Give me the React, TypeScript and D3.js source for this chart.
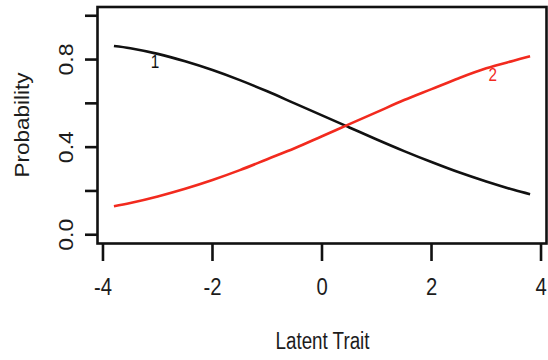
import React from 'react';
import * as d3 from 'd3';

const latentTrait = [-3.8, -3.5, -3, -2.5, -2, -1.5, -1, -0.5, 0, 0.5, 1, 1.5, 2, 2.5, 3, 3.5, 3.8];
const category1 = [0.862, 0.852, 0.826, 0.792, 0.752, 0.706, 0.655, 0.6, 0.545, 0.49, 0.435, 0.382, 0.332, 0.285, 0.243, 0.205, 0.185];
const category2 = [0.13, 0.145, 0.175, 0.21, 0.25, 0.295, 0.345, 0.395, 0.45, 0.505, 0.56, 0.615, 0.665, 0.715, 0.76, 0.795, 0.815];
const seriesNames = ['1', '2'];
const seriesColors = ['#111111', '#f22a1e'];
const labelX = [-3.05, 3.12];
const labelY = [0.76, 0.7];
const xTicks = [-4, -2, 0, 2, 4];
const xTickLabels = ['-4', '-2', '0', '2', '4'];
const yTicks = [0, 0.2, 0.4, 0.6, 0.8, 1.0];
const yTickLabels = ['0.0', '', '0.4', '', '0.8', ''];
const xTitle = 'Latent Trait';
const yTitle = 'Probability';

export default function App() {
  const x = d3.scaleLinear().domain([-4.1, 4.1]).range([97.5, 546.5]);
  const y = d3.scaleLinear().domain([-0.04, 1.04]).range([243.5, 7]);
  const line = d3
    .line<number>()
    .x((_, i) => x(latentTrait[i]))
    .y((d) => y(d))
    .curve(d3.curveCatmullRom);
  const series = [category1, category2];
  const font = 'Liberation Sans, Arial, sans-serif';
  const textColor = '#1c1c1c';
  return (
    <svg
      width={548}
      height={360}
      style={{ position: 'absolute', left: 0, top: 0, background: '#fff' }}
    >
      <rect x={0} y={0} width={548} height={360} fill="#fff" />
      {series.map((s, k) => (
        <path key={k} d={line(s) || ''} fill="none" stroke={seriesColors[k]} strokeWidth={2.6} />
      ))}
      {seriesNames.map((n, k) => (
        <text
          key={n}
          transform={`translate(${x(labelX[k])},${y(labelY[k])}) scale(0.85,1)`}
          textAnchor="middle"
          fontFamily={font}
          fontSize={18}
          fill={seriesColors[k]}
        >
          {n}
        </text>
      ))}
      <rect
        x={97.5}
        y={7}
        width={449}
        height={236.5}
        fill="none"
        stroke="#111"
        strokeWidth={2.6}
      />
      {yTicks.map((t, i) => (
        <g key={'y' + i}>
          <line x1={85} x2={97.5} y1={y(t)} y2={y(t)} stroke="#111" strokeWidth={2.6} />
          {yTickLabels[i] && (
            <text
              transform={`translate(73,${y(t)}) rotate(-90) scale(1,0.9)`}
              textAnchor="middle"
              fontFamily={font}
              fontSize={23}
              fill={textColor}
            >
              {yTickLabels[i]}
            </text>
          )}
        </g>
      ))}
      {xTicks.map((t, i) => (
        <g key={'x' + i}>
          <line x1={x(t)} x2={x(t)} y1={243.5} y2={261} stroke="#111" strokeWidth={2.6} />
          <text
            transform={`translate(${x(t)},295) scale(0.88,1)`}
            textAnchor="middle"
            fontFamily={font}
            fontSize={23}
            fill={textColor}
          >
            {xTickLabels[i]}
          </text>
        </g>
      ))}
      <text
        transform={`translate(322.5,349) scale(0.8,1)`}
        textAnchor="middle"
        fontFamily={font}
        fontSize={23.5}
        fill={textColor}
      >
        {xTitle}
      </text>
      <text
        transform={`translate(28.5,125) rotate(-90) scale(1,0.92)`}
        textAnchor="middle"
        fontFamily={font}
        fontSize={22.5}
        fill={textColor}
      >
        {yTitle}
      </text>
    </svg>
  );
}
